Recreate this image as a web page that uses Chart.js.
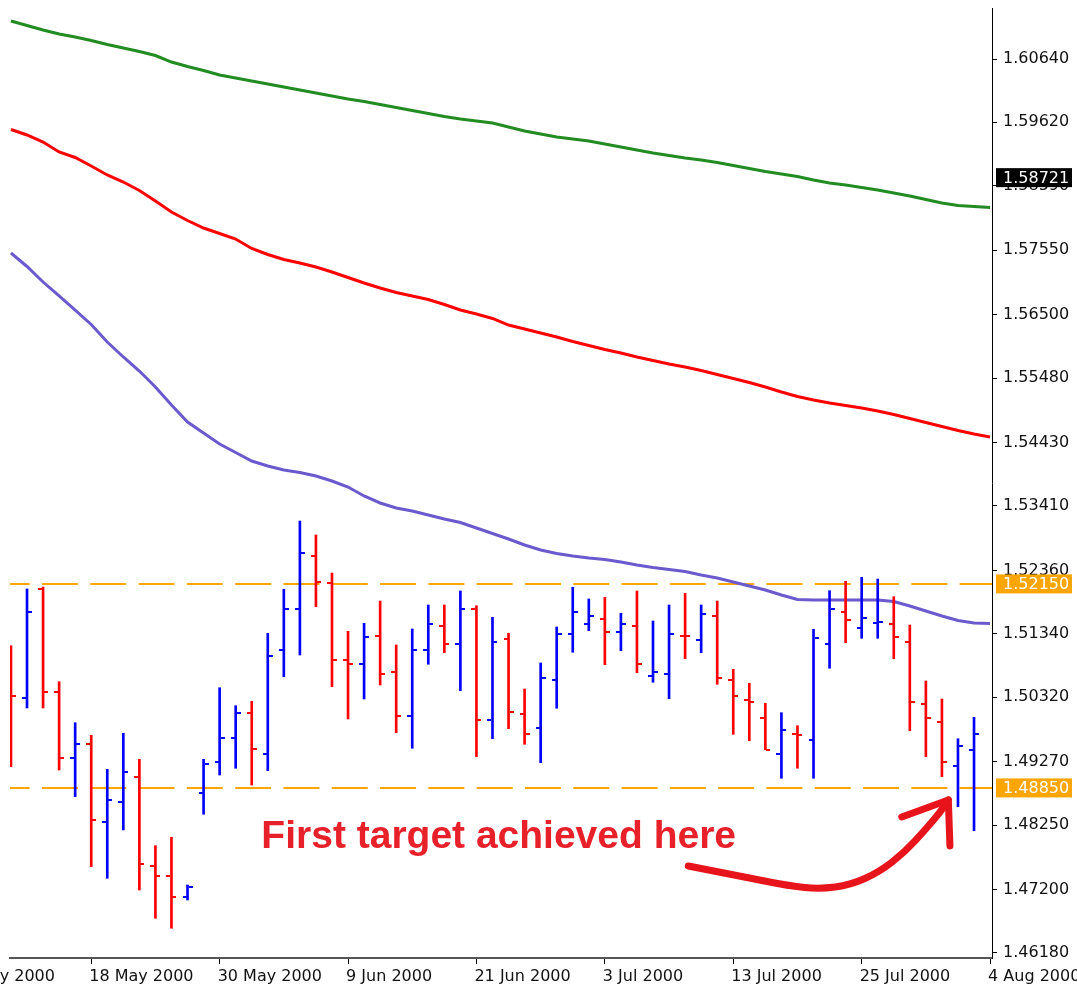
<!DOCTYPE html>
<html>
<head>
<meta charset="utf-8">
<script src="https://cdn.jsdelivr.net/npm/chart.js@4.4.1/dist/chart.umd.min.js"></script>
<style>
  html, body { margin: 0; padding: 0; background: #fff; }
</style>
</head>
<body>
<canvas id="gbpChart" width="1077" height="991"></canvas>
<script>
// daily bars 11 May 2000 .. 3 Aug 2000 (index 0..60)
const opens = [
  1.50919, 1.50309, 1.52068, 1.50406, 1.49339, 1.49565, 1.48304, 1.48627, 1.49022, 1.47587,
  1.47430, 1.47081, 1.48763, 1.49274, 1.49662, 1.50057, 1.49399, 1.51081, 1.51739, 1.52606,
  1.52165, 1.50919, 1.50859, 1.51312, 1.50730, 1.50018, 1.51086, 1.51474, 1.51183, 1.51739,
  1.49954, 1.51254, 1.50051, 1.49824, 1.50601, 1.51345, 1.51506, 1.51577, 1.51377, 1.51474,
  1.50665, 1.50698, 1.51312, 1.51248, 1.51636, 1.50601, 1.50277, 1.49986, 1.49404, 1.49727,
  1.49630, 1.51183, 1.51700, 1.51442, 1.51518, 1.51506, 1.51215, 1.50212, 1.49921, 1.49210,
  1.49468
];
const highs = [
  1.51150, 1.52068, 1.52100, 1.50568, 1.49905, 1.49701, 1.49151, 1.49734, 1.49313, 1.47916,
  1.48052, 1.47280, 1.49313, 1.50471, 1.50180, 1.50251, 1.51351, 1.52063, 1.53167, 1.52941,
  1.52326, 1.51383, 1.51513, 1.51873, 1.51162, 1.51421, 1.51809, 1.51809, 1.52035, 1.51797,
  1.51610, 1.51351, 1.50450, 1.50871, 1.51453, 1.52095, 1.51906, 1.51933, 1.51675, 1.52035,
  1.51550, 1.51809, 1.51998, 1.51809, 1.51873, 1.50769, 1.50542, 1.50219, 1.50067, 1.49857,
  1.51416, 1.52040, 1.52192, 1.52257, 1.52229, 1.51943, 1.51485, 1.50580, 1.50288, 1.49646,
  1.49992
];
const lows = [
  1.49193, 1.50143, 1.50143, 1.49140, 1.48708, 1.47576, 1.47388, 1.48170, 1.47199, 1.46741,
  1.46580, 1.47037, 1.48424, 1.49059, 1.49168, 1.48897, 1.49129, 1.50649, 1.51000, 1.51781,
  1.50487, 1.49965, 1.50288, 1.50515, 1.49743, 1.49491, 1.50850, 1.51037, 1.50423, 1.49355,
  1.49646, 1.49808, 1.49556, 1.49258, 1.50138, 1.51044, 1.51393, 1.50843, 1.51070, 1.50714,
  1.50559, 1.50293, 1.50940, 1.51037, 1.50526, 1.49717, 1.49614, 1.49468, 1.49006, 1.49168,
  1.49006, 1.50785, 1.51199, 1.51270, 1.51270, 1.50940, 1.49776, 1.49355, 1.49032, 1.48547,
  1.48158
];
const closes = [
  1.50342, 1.51700, 1.50406, 1.49339, 1.49565, 1.48331, 1.48660, 1.49113, 1.47620, 1.47430,
  1.47081, 1.47243, 1.49237, 1.49662, 1.50057, 1.49475, 1.50989, 1.51739, 1.52645, 1.52186,
  1.50919, 1.50859, 1.51286, 1.50698, 1.50018, 1.51086, 1.51506, 1.51183, 1.51739, 1.49954,
  1.51215, 1.50083, 1.49727, 1.50633, 1.51345, 1.51700, 1.51636, 1.51377, 1.51506, 1.50859,
  1.50730, 1.51345, 1.51307, 1.51668, 1.50633, 1.50342, 1.50245, 1.49468, 1.49792, 1.49714,
  1.51280, 1.51739, 1.51571, 1.51603, 1.51539, 1.51291, 1.50245, 1.49986, 1.49274, 1.49533,
  1.49727
];

// moving averages, one value per bar (+ the 4 Aug bar)
const maSlow = [
  1.61254, 1.61182, 1.61109, 1.61044, 1.60996, 1.60939, 1.60874, 1.60818, 1.60761, 1.60696,
  1.60591, 1.60518, 1.60454, 1.60381, 1.60332, 1.60284, 1.60235, 1.60187, 1.60138, 1.60090,
  1.60041, 1.59993, 1.59952, 1.59904, 1.59855, 1.59807, 1.59758, 1.59710, 1.59669, 1.59637,
  1.59605, 1.59540, 1.59475, 1.59427, 1.59378, 1.59346, 1.59314, 1.59265, 1.59216, 1.59168,
  1.59119, 1.59079, 1.59039, 1.59006, 1.58966, 1.58917, 1.58869, 1.58820, 1.58780, 1.58739,
  1.58683, 1.58634, 1.58602, 1.58561, 1.58521, 1.58472, 1.58424, 1.58367, 1.58311, 1.58270,
  1.58254, 1.58238
];
const maMid = [
  1.59500, 1.59411, 1.59297, 1.59136, 1.59047, 1.58909, 1.58764, 1.58650, 1.58513, 1.58343,
  1.58165, 1.58028, 1.57906, 1.57817, 1.57728, 1.57575, 1.57478, 1.57397, 1.57340, 1.57276,
  1.57195, 1.57106, 1.57017, 1.56936, 1.56863, 1.56807, 1.56750, 1.56669, 1.56580, 1.56515,
  1.56443, 1.56337, 1.56273, 1.56208, 1.56143, 1.56071, 1.56006, 1.55941, 1.55885, 1.55820,
  1.55763, 1.55707, 1.55658, 1.55602, 1.55537, 1.55472, 1.55407, 1.55335, 1.55254, 1.55181,
  1.55124, 1.55076, 1.55035, 1.54995, 1.54947, 1.54890, 1.54825, 1.54761, 1.54696, 1.54631,
  1.54575, 1.54526
];
const maFast = [
  1.57502, 1.57284, 1.57033, 1.56807, 1.56580, 1.56346, 1.56063, 1.55820, 1.55593, 1.55335,
  1.55044, 1.54769, 1.54591, 1.54413, 1.54275, 1.54138, 1.54057, 1.53992, 1.53952, 1.53895,
  1.53814, 1.53717, 1.53572, 1.53459, 1.53378, 1.53329, 1.53264, 1.53200, 1.53143, 1.53054,
  1.52965, 1.52876, 1.52779, 1.52698, 1.52642, 1.52601, 1.52569, 1.52545, 1.52504, 1.52456,
  1.52415, 1.52383, 1.52351, 1.52294, 1.52245, 1.52181, 1.52116, 1.52051, 1.51970, 1.51898,
  1.51890, 1.51890, 1.51890, 1.51890, 1.51890, 1.51865, 1.51793, 1.51712, 1.51631, 1.51558,
  1.51518, 1.51510
];

const levels = [1.52150, 1.48850];
const lastPrice = 1.58721;

const priceTicks = [1.46180, 1.47200, 1.48250, 1.49270, 1.50320, 1.51340, 1.52360, 1.53410,
  1.54430, 1.55480, 1.56500, 1.57550, 1.58590, 1.59620, 1.60640];
const dateTicks = [-3, 5, 13, 21, 29, 37, 45, 53, 61];
const dateLabels = ['8 May 2000', '18 May 2000', '30 May 2000', '9 Jun 2000', '21 Jun 2000',
  '3 Jul 2000', '13 Jul 2000', '25 Jul 2000', '4 Aug 2000'];

// annotation, in (bar index, price) units
const noteText = 'First target achieved here';
const noteAt = [15.6, 1.47878];
const arrowPath = [[42.2, 1.47587], [45.4, 1.47426], [48.5, 1.47264], [50.4, 1.47215], [52.3, 1.47280],
  [54.1, 1.47490], [55.7, 1.47814], [56.95, 1.48170], [57.9, 1.48461], [58.4, 1.48655]];
const arrowBarbs = [[55.5, 1.48380], [58.5, 1.47911]];

const upColor = '#0000ff';
const downColor = '#ff0000';
const orange = '#ffa500';
const isUp = i => closes[i] >= opens[i];

// open tick sits left of the bar, close tick right
function tickImage(color, left) {
  const c = document.createElement('canvas');
  c.width = 10; c.height = 2;
  const g = c.getContext('2d');
  g.fillStyle = color;
  g.fillRect(left ? 0 : 6, 0, 4, 2);
  return c;
}
const openUp = tickImage(upColor, true), openDown = tickImage(downColor, true);
const closeUp = tickImage(upColor, false), closeDown = tickImage(downColor, false);

const xy = arr => arr.map((y, x) => ({ x, y }));

Chart.defaults.font.family = '"DejaVu Sans", Verdana, sans-serif';
Chart.defaults.font.size = 16;
Chart.defaults.color = '#111';

const extras = {
  id: 'extras',
  beforeDatasetsDraw(chart) {
    chart.ctx.imageSmoothingEnabled = false;
  },
  afterDatasetsDraw(chart) {
    const { ctx, scales: { x, y } } = chart;
    ctx.imageSmoothingEnabled = true;
    const px = p => [x.getPixelForValue(p[0]), y.getPixelForValue(p[1])];
    ctx.save();
    ctx.fillStyle = '#e8202a';
    ctx.font = 'bold 39px "Liberation Sans", Arial, sans-serif';
    ctx.textBaseline = 'alphabetic';
    const t = px(noteAt);
    ctx.fillText(noteText, t[0], t[1]);

    const pts = arrowPath.map(px);
    ctx.strokeStyle = '#e8141c';
    ctx.lineWidth = 7;
    ctx.lineCap = 'round';
    ctx.lineJoin = 'round';
    ctx.beginPath();
    ctx.moveTo(pts[0][0], pts[0][1]);
    for (let i = 1; i < pts.length - 1; i++) {
      const mx = (pts[i][0] + pts[i + 1][0]) / 2, my = (pts[i][1] + pts[i + 1][1]) / 2;
      ctx.quadraticCurveTo(pts[i][0], pts[i][1], mx, my);
    }
    const tip = pts[pts.length - 1];
    ctx.lineTo(tip[0], tip[1]);
    ctx.stroke();
    const b0 = px(arrowBarbs[0]), b1 = px(arrowBarbs[1]);
    ctx.beginPath();
    ctx.moveTo(b0[0], b0[1]);
    ctx.lineTo(tip[0], tip[1]);
    ctx.lineTo(b1[0], b1[1]);
    ctx.stroke();
    ctx.restore();
  },
  afterDraw(chart) {
    // price tags on the right axis
    const { ctx, scales: { y } } = chart;
    const tags = [[lastPrice, '#000'], [levels[0], orange], [levels[1], orange]];
    ctx.save();
    ctx.font = '16px "DejaVu Sans", Verdana, sans-serif';
    ctx.textBaseline = 'middle';
    tags.forEach(([v, bg]) => {
      const py = y.getPixelForValue(v);
      ctx.fillStyle = bg;
      ctx.fillRect(y.left + 4, py - 9.5, chart.width - y.left - 9, 19);
      ctx.fillStyle = '#fff';
      ctx.fillText(v.toFixed(5), y.left + 11, py + 1);
    });
    ctx.restore();
  }
};

new Chart(document.getElementById('gbpChart'), {
  type: 'line',
  data: {
    datasets: [
      {
        type: 'line', data: xy(opens), showLine: false, pointRadius: 5, pointHoverRadius: 5,
        pointStyle: c => isUp(c.dataIndex) ? openUp : openDown, order: 0
      },
      {
        type: 'line', data: xy(closes), showLine: false, pointRadius: 5, pointHoverRadius: 5,
        pointStyle: c => isUp(c.dataIndex) ? closeUp : closeDown, order: 0
      },
      {
        type: 'bar', data: highs.map((h, i) => ({ x: i, y: [lows[i], h] })),
        backgroundColor: opens.map((o, i) => isUp(i) ? upColor : downColor),
        barThickness: 2, order: 1
      },
      { data: xy(maSlow), borderColor: '#228b22', borderWidth: 3, pointRadius: 0, order: 3 },
      { data: xy(maMid), borderColor: '#ff0000', borderWidth: 3, pointRadius: 0, order: 3 },
      { data: xy(maFast), borderColor: '#6a5acd', borderWidth: 3, pointRadius: 0, order: 3 },
      ...levels.map(lv => ({
        data: [{ x: -1, y: lv }, { x: 62, y: lv }], borderColor: orange, borderWidth: 2,
        borderDash: [36, 12.3], borderDashOffset: 1.25, pointRadius: 0, order: 4
      }))
    ]
  },
  options: {
    responsive: false,
    animation: false,
    events: [],
    layout: { padding: { left: 10, top: 8, right: 0, bottom: 0 }, autoPadding: false },
    elements: { line: { tension: 0 } },
    plugins: { legend: { display: false }, tooltip: { enabled: false } },
    scales: {
      x: {
        type: 'linear', min: -0.06, max: 61.12, offset: false,
        grid: { drawOnChartArea: false, drawTicks: true, tickLength: 6, color: '#000', offset: false },
        border: { display: true, color: '#555', width: 2 },
        ticks: {
          autoSkip: false, maxRotation: 0, align: 'start', labelOffset: -2, padding: 3, color: '#111',
          callback: (v, i) => dateLabels[i]
        },
        afterBuildTicks: s => { s.ticks = dateTicks.map(v => ({ value: v })); },
        afterFit: s => { s.height = 33; s.paddingLeft = 0; s.paddingRight = 0; }
      },
      y: {
        type: 'linear', position: 'right', min: 1.46099, max: 1.61465,
        grid: { drawOnChartArea: false, drawTicks: true, tickLength: 5, color: '#000' },
        border: { display: true, color: '#000', width: 1 },
        ticks: { padding: 6, color: '#111', callback: v => v.toFixed(5) },
        afterBuildTicks: s => { s.ticks = priceTicks.map(v => ({ value: v })); },
        afterFit: s => { s.width = 85; s.paddingTop = 0; s.paddingBottom = 0; }
      }
    }
  },
  plugins: [extras]
});
</script>
</body>
</html>
